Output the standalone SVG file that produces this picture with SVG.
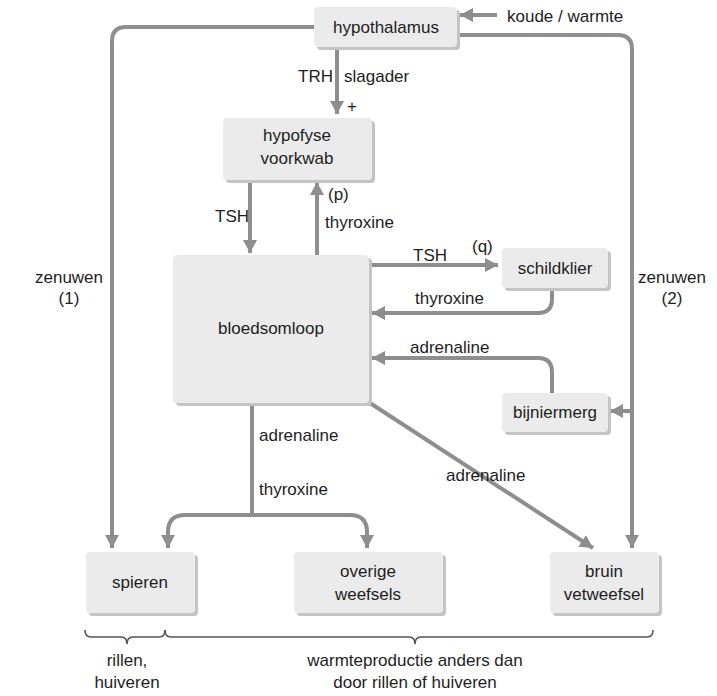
<svg xmlns="http://www.w3.org/2000/svg" width="717" height="696" viewBox="0 0 717 696">
<defs>
<style>
.box{fill:#ebebeb;}
.sh{fill:#c4c4c4;}
.t{font-family:"Liberation Sans",Arial,sans-serif;font-size:17px;fill:#1e1e1e;}
.c{text-anchor:middle;}
.ln{fill:none;stroke:#8e8e8e;stroke-width:4;}
.ar{marker-end:url(#ah);}
.br{fill:none;stroke:#555;stroke-width:1.6;}
</style>
<marker id="ah" markerUnits="userSpaceOnUse" markerWidth="14" markerHeight="14" refX="13" refY="7" orient="auto">
<path d="M0,0 L13,7 L0,14 Z" fill="#8e8e8e"/>
</marker>
</defs>
<rect width="717" height="696" fill="#fff"/>

<g id="connectors">
<path class="ln ar" d="M497,15 H460"/>
<path class="ln ar" d="M314,27 H126 Q112,27 112,41 V548"/>
<path class="ln ar" d="M460,35 H618 Q632,35 632,49 V548"/>
<path class="ln ar" d="M632,411 H610"/>
<path class="ln ar" d="M337,47 V114"/>
<path class="ln ar" d="M250,181 V253"/>
<path class="ln ar" d="M317,255 V182"/>
<path class="ln ar" d="M372,265 H498"/>
<path class="ln ar" d="M552,290 V299 Q552,313 538,313 H372"/>
<path class="ln ar" d="M552,393 V372 Q552,358 538,358 H372"/>
<path class="ln ar" d="M370,403 L593,548"/>
<path class="ln" d="M252,405 V515"/>
<path class="ln ar" d="M252,515 H185 Q168,515 168,532 V548"/>
<path class="ln ar" d="M252,515 H350 Q367,515 367,532 V548"/>
</g>

<g id="hypothalamus">
<rect class="sh" x="317" y="10" width="143" height="40" rx="4"/>
<rect class="box" x="314" y="7" width="143" height="40" rx="4"/>
<text class="t c" x="386" y="33">hypothalamus</text>
</g>
<g id="hypofyse">
<rect class="sh" x="226" y="121" width="149" height="62" rx="4"/>
<rect class="box" x="223" y="118" width="149" height="62" rx="4"/>
<text class="t c" x="297" y="141">hypofyse</text>
<text class="t c" x="297" y="164">voorkwab</text>
</g>
<g id="bloedsomloop">
<rect class="sh" x="176" y="258" width="196" height="148" rx="4"/>
<rect class="box" x="173" y="255" width="196" height="148" rx="4"/>
<text class="t c" x="271" y="334">bloedsomloop</text>
</g>
<g id="schildklier">
<rect class="sh" x="505" y="251" width="106" height="40" rx="4"/>
<rect class="box" x="502" y="248" width="106" height="40" rx="4"/>
<text class="t c" x="555" y="274">schildklier</text>
</g>
<g id="bijniermerg">
<rect class="sh" x="505" y="396" width="106" height="39" rx="4"/>
<rect class="box" x="502" y="393" width="106" height="39" rx="4"/>
<text class="t c" x="555" y="418">bijniermerg</text>
</g>
<g id="spieren">
<rect class="sh" x="89" y="555" width="109" height="61" rx="4"/>
<rect class="box" x="86" y="552" width="109" height="61" rx="4"/>
<text class="t c" x="140" y="588">spieren</text>
</g>
<g id="overige">
<rect class="sh" x="297" y="555" width="149" height="61" rx="4"/>
<rect class="box" x="294" y="552" width="149" height="61" rx="4"/>
<text class="t c" x="368" y="577">overige</text>
<text class="t c" x="368" y="600">weefsels</text>
</g>
<g id="bruin">
<rect class="sh" x="553" y="555" width="109" height="61" rx="4"/>
<rect class="box" x="550" y="552" width="109" height="61" rx="4"/>
<text class="t c" x="604" y="577">bruin</text>
<text class="t c" x="604" y="600">vetweefsel</text>
</g>

<g id="labels">
<text class="t" x="507" y="22">koude / warmte</text>
<text class="t" x="298" y="82">TRH</text>
<text class="t" x="344" y="82">slagader</text>
<text class="t" x="347" y="112">+</text>
<text class="t" x="215" y="222">TSH</text>
<text class="t" x="328" y="200">(p)</text>
<text class="t" x="325" y="228">thyroxine</text>
<text class="t" x="413" y="261">TSH</text>
<text class="t" x="472" y="252">(q)</text>
<text class="t" x="415" y="304">thyroxine</text>
<text class="t" x="410" y="353">adrenaline</text>
<text class="t" x="446" y="481">adrenaline</text>
<text class="t" x="259" y="441">adrenaline</text>
<text class="t" x="259" y="495">thyroxine</text>
<text class="t c" x="69" y="283">zenuwen</text>
<text class="t c" x="69" y="304">(1)</text>
<text class="t c" x="672" y="283">zenuwen</text>
<text class="t c" x="672" y="304">(2)</text>
<text class="t c" x="127" y="666">rillen,</text>
<text class="t c" x="127" y="688">huiveren</text>
<text class="t c" x="415" y="666">warmteproductie anders dan</text>
<text class="t c" x="415" y="688">door rillen of huiveren</text>
</g>

<g id="braces">
<path class="br" d="M85,630 Q85,637 91,637 H121 Q127,637 127,644 Q127,637 133,637 H159 Q165,637 165,630"/>
<path class="br" d="M165,630 Q165,637 171,637 H409 Q415,637 415,644 Q415,637 421,637 H647 Q653,637 653,630"/>
</g>
</svg>
